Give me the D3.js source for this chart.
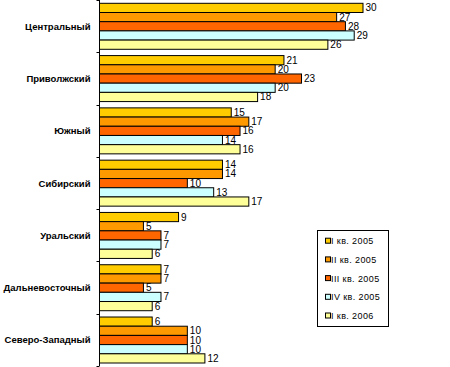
<!DOCTYPE html>
<html><head><meta charset="utf-8">
<script src="https://cdn.jsdelivr.net/npm/d3@7"></script>
<style>body{margin:0;background:#fff}svg{display:block}</style>
</head><body>
<svg id="c" width="450" height="367"></svg>
<script>
const categories = ["Центральный","Приволжский","Южный","Сибирский","Уральский","Дальневосточный","Северо-Западный"];
const seriesNames = ["I кв. 2005","II кв. 2005","III кв. 2005","IV кв. 2005","I кв. 2006"];
const seriesColors = ["#FFCC00","#FF9900","#FF6600","#CCFFFF","#FFFF99"];
const q1_2005 = [30,21,15,14,9,7,6];
const q2_2005 = [27,20,17,14,5,7,10];
const q3_2005 = [28,23,16,10,7,5,10];
const q4_2005 = [29,20,14,13,7,7,10];
const q1_2006 = [26,18,16,17,6,6,12];
const seriesValues = [q1_2005,q2_2005,q3_2005,q4_2005,q1_2006];

const FONT = "'Liberation Sans', Arial, sans-serif";
const svg = d3.select("#c");
const x = d3.scaleLinear().domain([0,30]).range([99.5,363]);
const y = d3.scaleBand().domain(categories).range([0,366]).paddingInner(0).paddingOuter(0);
const inner = d3.scaleBand().domain(d3.range(seriesNames.length)).range([3.3, y.bandwidth()-3]);

const g = svg.append("g");
categories.forEach((c,ci)=>{
  seriesValues.forEach((vals,si)=>{
    const yy = y(c)+inner(si);
    g.append("rect").attr("x",x(0)).attr("y",yy)
      .attr("width",x(vals[ci])-x(0)).attr("height",inner.bandwidth())
      .attr("fill",seriesColors[si]).attr("stroke","#000").attr("stroke-width",1);
    g.append("text").attr("x",x(vals[ci])+2.5).attr("y",yy+inner.bandwidth()/2+3.5)
      .attr("font-family",FONT).attr("font-size",10)
      .text(vals[ci]);
  });
});

// axis
const ag = svg.append("g").attr("transform","translate(99.5,0)");
ag.append("line").attr("x1",0).attr("x2",0).attr("y1",0).attr("y2",366).attr("stroke","#000");
const bounds = categories.map(c=>y(c)).concat([y.range()[1]]);
bounds.forEach(b=>{
  ag.append("line").attr("x1",-3).attr("x2",0).attr("y1",Math.round(b)+0.5).attr("y2",Math.round(b)+0.5).attr("stroke","#000");
});
categories.forEach(c=>{
  ag.append("text").attr("x",-9).attr("y",y(c)+y.bandwidth()/2+3.5)
    .attr("text-anchor","end").attr("font-family",FONT)
    .attr("font-size",9.5).attr("font-weight","bold").text(c);
});

// legend
const lg = svg.append("g");
lg.append("rect").attr("x",317.5).attr("y",230.5).attr("width",71).attr("height",96)
  .attr("fill","#fff").attr("stroke","#000");
seriesNames.forEach((n,i)=>{
  const cy = 240.7 + i*18.7;
  lg.append("rect").attr("x",325.5).attr("y",cy-2.5).attr("width",5).attr("height",5)
    .attr("fill",seriesColors[i]).attr("stroke","#000");
  lg.append("text").attr("x",331).attr("y",cy+3.5)
    .attr("font-family",FONT).attr("font-size",9)
    .attr("letter-spacing",0.4).text(n);
});
</script>
</body></html>
